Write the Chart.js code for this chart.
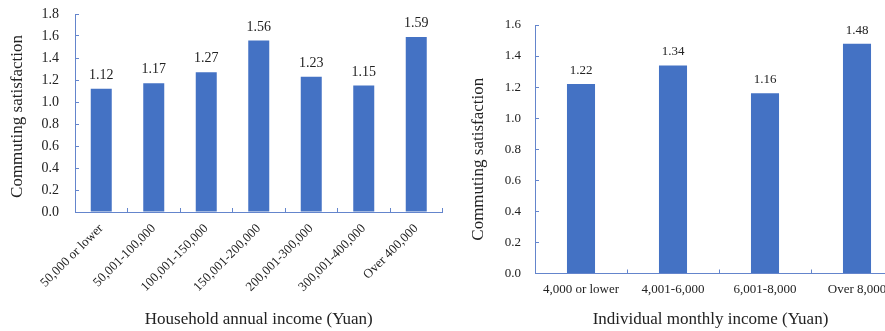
<!DOCTYPE html>
<html>
<head>
<meta charset="utf-8">
<script src="https://cdn.jsdelivr.net/npm/chart.js@4.4.0/dist/chart.umd.min.js"></script>
<style>
  html, body { margin: 0; padding: 0; background: #fff; overflow: hidden; width: 885px; height: 331px; }
  #household { position: absolute; left: 0; top: 0; }
  #individual { position: absolute; left: 450px; top: 0; }
</style>
</head>
<body>
<canvas id="household" width="450" height="331"></canvas>
<canvas id="individual" width="460" height="331"></canvas>
<script>
// Household annual income groups
const householdCategories = ['50,000 or lower', '50,001-100,000', '100,001-150,000', '150,001-200,000', '200,001-300,000', '300,001-400,000', 'Over 400,000'];
const householdSatisfaction = [1.12, 1.17, 1.27, 1.56, 1.23, 1.15, 1.59];
const householdYTicks = ['0.0', '0.2', '0.4', '0.6', '0.8', '1.0', '1.2', '1.4', '1.6', '1.8'];

// Individual monthly income groups
const individualCategories = ['4,000 or lower', '4,001-6,000', '6,001-8,000', 'Over 8,000'];
const individualSatisfaction = [1.22, 1.34, 1.16, 1.48];
const individualYTicks = ['0.0', '0.2', '0.4', '0.6', '0.8', '1.0', '1.2', '1.4', '1.6'];

const yTitle = 'Commuting satisfaction';
const householdXTitle = 'Household annual income (Yuan)';
const individualXTitle = 'Individual monthly income (Yuan)';

const SERIF = '"Liberation Serif", "Times New Roman", serif';
const BAR = '#4472C4';
const AXIS = '#6485CC';
const TEXT = '#222222';

// Value written above each bar
const valueLabels = {
  id: 'valueLabels',
  afterDatasetsDraw(chart, args, opts) {
    const { ctx } = chart;
    const meta = chart.getDatasetMeta(0);
    const values = chart.data.datasets[0].data;
    ctx.save();
    ctx.font = opts.size + 'px ' + SERIF;
    ctx.fillStyle = TEXT;
    ctx.textAlign = 'center';
    ctx.textBaseline = 'middle';
    meta.data.forEach((bar, i) => {
      ctx.fillText(values[i].toFixed(2), bar.x, bar.y - opts.gap);
    });
    ctx.restore();
  }
};

// Axis captions placed relative to the plot area
const captions = {
  id: 'captions',
  afterDraw(chart, args, opts) {
    const { ctx, chartArea: a } = chart;
    ctx.save();
    ctx.font = opts.size + 'px ' + SERIF;
    ctx.fillStyle = TEXT;
    ctx.textAlign = 'center';
    ctx.textBaseline = 'middle';
    ctx.fillText(opts.xText, (a.left + a.right) / 2 + opts.xShift, opts.xY);
    ctx.translate(a.left - opts.yGap, (a.top + a.bottom) / 2 + opts.yShift);
    ctx.rotate(-Math.PI / 2);
    ctx.fillText(opts.yText, 0, 0);
    ctx.restore();
  }
};

function makeChart(canvas, c) {
  return new Chart(canvas, {
    type: 'bar',
    data: {
      labels: c.categories,
      datasets: [{
        data: c.values,
        backgroundColor: BAR,
        borderWidth: 0,
        barPercentage: c.barPct,
        categoryPercentage: 1
      }]
    },
    options: {
      responsive: false,
      animation: false,
      devicePixelRatio: 1,
      layout: { padding: { left: 0, top: c.top, right: c.right, bottom: 0 } },
      plugins: {
        legend: { display: false },
        tooltip: { enabled: false },
        valueLabels: { size: c.valueSize, gap: 13.5 },
        captions: c.captions
      },
      scales: {
        x: {
          offset: true,
          grid: { display: true, offset: true, drawOnChartArea: false, tickLength: -4, color: AXIS },
          border: { display: true, color: AXIS, width: 1 },
          ticks: {
            autoSkip: false,
            maxRotation: c.rotation,
            minRotation: c.rotation,
            padding: c.xPad,
            color: TEXT,
            font: { family: SERIF, size: 13 }
          },
          afterFit: s => { s.height = c.xHeight; }
        },
        y: {
          min: 0,
          max: c.max,
          grid: { display: true, drawOnChartArea: false, tickLength: -4, color: AXIS },
          border: { display: true, color: AXIS, width: 1 },
          ticks: {
            stepSize: 0.2,
            padding: c.yPad,
            color: TEXT,
            font: { family: SERIF, size: c.yTickSize },
            callback: (v, i) => c.yTicks[i]
          },
          afterFit: s => {
            s.width = c.yWidth;
            s.paddingTop = 0;
            s.paddingBottom = 0;
          }
        }
      }
    },
    plugins: [valueLabels, captions]
  });
}

makeChart(document.getElementById('household'), {
  categories: householdCategories,
  values: householdSatisfaction,
  yTicks: householdYTicks,
  max: 1.8,
  barPct: 0.4,
  top: 14,
  right: 7.5,
  yWidth: 75,
  xHeight: 119,
  rotation: 45,
  xPad: 13,
  yPad: 20,
  yTickSize: 14,
  valueSize: 14,
  captions: { size: 17, xText: householdXTitle, xShift: 0, xY: 320, yText: yTitle, yGap: 57.5, yShift: 3.5 }
});

makeChart(document.getElementById('individual'), {
  categories: individualCategories,
  values: individualSatisfaction,
  yTicks: individualYTicks,
  max: 1.6,
  barPct: 0.305,
  top: 25,
  right: 7,
  yWidth: 85,
  xHeight: 57.5,
  rotation: 0,
  xPad: 12.5,
  yPad: 18,
  yTickSize: 13,
  valueSize: 13,
  captions: { size: 17, xText: individualXTitle, xShift: -8.5, xY: 320, yText: yTitle, yGap: 56, yShift: 10 }
});
</script>
</body>
</html>
